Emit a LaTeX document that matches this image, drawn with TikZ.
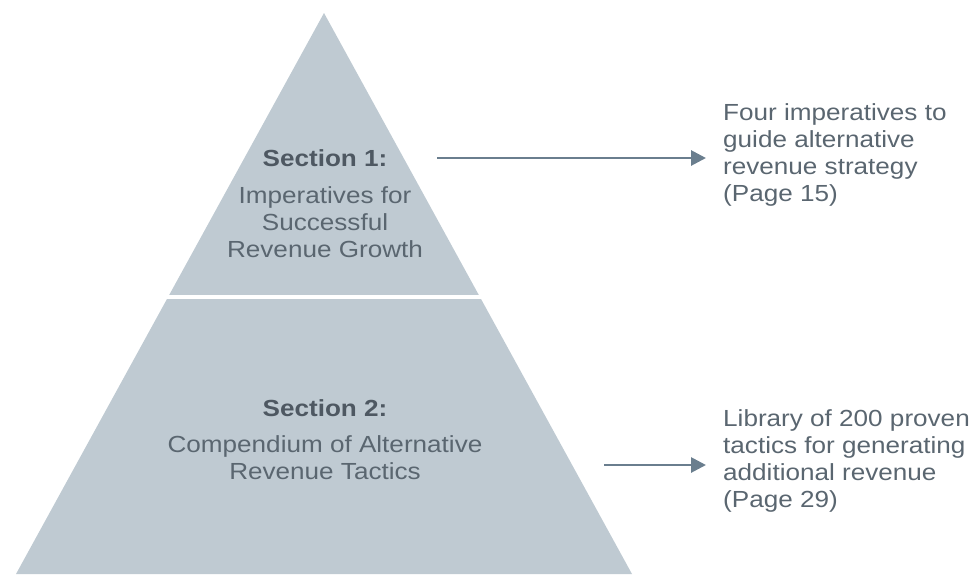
\documentclass[tikz,border=0pt]{standalone}
\usepackage{fontspec}
\setmainfont{Liberation Sans}[FakeStretch=1.12]
\usetikzlibrary{arrows.meta}
\definecolor{pyrfill}{HTML}{BFCAD2}
\definecolor{bodytext}{HTML}{5A6670}
\definecolor{headtext}{HTML}{4E5862}
\definecolor{arrowgray}{HTML}{6A7E8E}
\begin{document}
\begin{tikzpicture}[x=1pt,y=-1pt,
  heading/.style={font=\fontsize{23.3}{26.7}\selectfont\bfseries, text=headtext, inner sep=0pt},
  body/.style={font=\fontsize{23.3}{26.7}\selectfont, text=bodytext, align=center, inner sep=0pt},
  note/.style={font=\fontsize{23.3}{26.7}\selectfont, text=bodytext, align=left, inner sep=0pt, anchor=west},
  pointer/.style={draw=arrowgray, line width=2.8pt, -{Triangle[length=15pt,width=15pt]}}]
  \useasboundingbox (0,0) rectangle (976,574);
  % pyramid split into two tiers by a white band
  \fill[pyrfill] (324,13) -- (16,574) -- (632,574) -- cycle;
  \draw[white, line width=4pt] (120,297) -- (530,297);
  % tier 1
  \node[heading] (h1) at (325,158) {Section 1:};
  \node[body] (b1) at (325,222) {Imperatives for\\Successful\\Revenue Growth};
  % tier 2
  \node[heading] (h2) at (325,408) {Section 2:};
  \node[body] (b2) at (325,458) {Compendium of Alternative\\Revenue Tactics};
  % descriptions
  \node[note] (n1) at (723,155) {Four imperatives to\\guide alternative\\revenue strategy\\(Page 15)};
  \node[note] (n2) at (723,461) {Library of 200 proven\\tactics for generating\\additional revenue\\(Page 29)};
  % pointers
  \coordinate (p1s) at (437,158);
  \coordinate (p1e) at (706,158);
  \coordinate (p2s) at (604,465);
  \coordinate (p2e) at (706,465);
  \draw[pointer] (p1s) -- (p1e);
  \draw[pointer] (p2s) -- (p2e);
\end{tikzpicture}
\end{document}
